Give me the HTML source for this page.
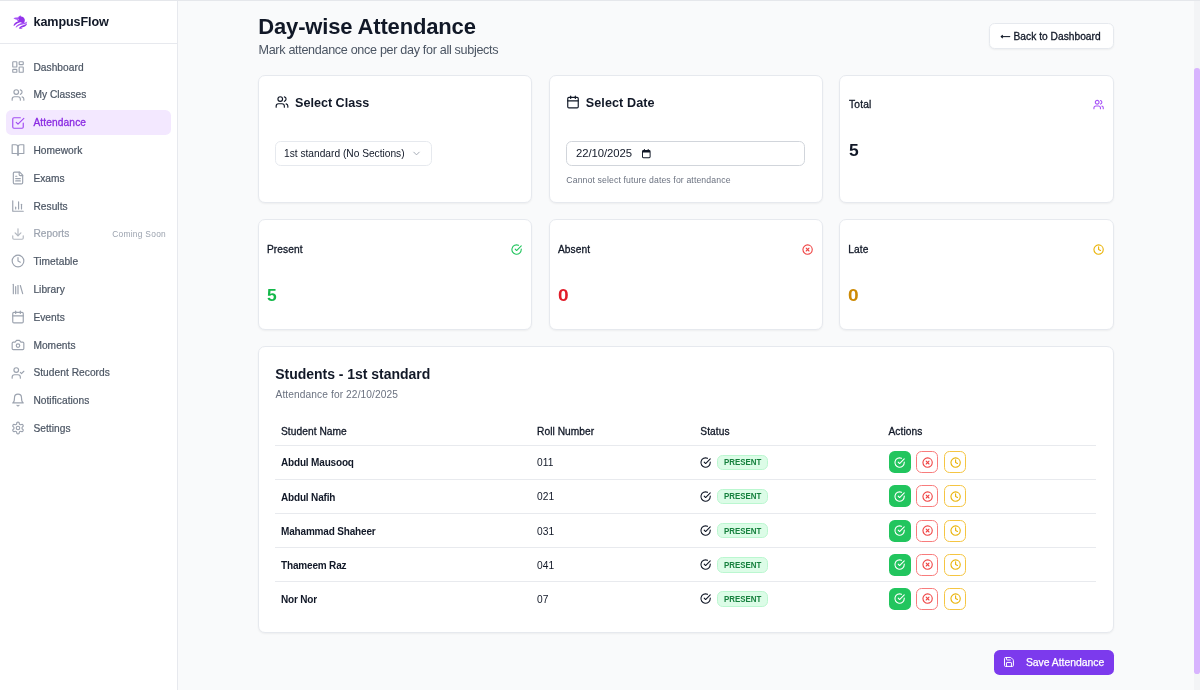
<!DOCTYPE html>
<html lang="en"><head><meta charset="utf-8"><title>Day-wise Attendance</title>
<style>
*{box-sizing:border-box;margin:0;padding:0}
html,body{width:1200px;height:690px;overflow:hidden;background:#f9fafb;font-family:"Liberation Sans",sans-serif;color:#111827}
body{position:relative}
.ic{position:absolute;display:block;overflow:visible}
.t{position:absolute;white-space:nowrap;line-height:1}
.topline{position:absolute;left:0;top:0;width:1200px;height:1px;background:#e5e7eb}
.side{position:absolute;left:0;top:1px;width:178px;height:689px;background:#fff;border-right:1px solid #e7e9ee}
.sidehead{position:absolute;left:0;top:0;width:177px;height:43px;border-bottom:1px solid #e7e9ee}
.nav{font-size:10.2px;color:#4b5563;letter-spacing:.04px;-webkit-text-stroke:.2px currentColor}
.active{position:absolute;left:6px;top:110.1px;width:165.4px;height:24.8px;border-radius:5.6px;background:#f3e8ff}
.card{position:absolute;background:#fff;border:1px solid #e6e9ee;border-radius:7px;box-shadow:0 1px 2px rgba(0,0,0,.05)}
.lbl{font-size:10.2px;color:#111827;letter-spacing:.08px;-webkit-text-stroke:.3px currentColor}
.big{font-size:16.8px;font-weight:700}
.hl{position:absolute;height:1px;background:#e8eaee;left:275px;width:821.3px}
.th{font-size:10.2px;color:#111827;letter-spacing:.06px;-webkit-text-stroke:.3px currentColor}
.nm{font-size:10px;font-weight:700;color:#111827;letter-spacing:-.17px}
.rn{font-size:10.2px;color:#111827;letter-spacing:.1px}
.badge{position:absolute;left:717px;width:51px;height:15.4px;border-radius:5.6px;background:#dcfce7;border:1px solid #bbf7d0}
.badge span{position:absolute;left:5.7px;top:2.5px;font-size:9.2px;font-weight:700;color:#15803d;line-height:1;transform:scaleX(.86);transform-origin:left}
.btn{position:absolute;width:22px;height:22px;border-radius:5.6px}
.bg{background:#22c55e}
.br{background:#fff;border:1px solid #f87c7c}
.by{background:#fff;border:1px solid #f5c542}
#wrap{position:absolute;left:0;top:0;width:1200px;height:690px;will-change:transform}
</style></head><body><div id="wrap">

<div class="topline"></div>
<div class="side"><div class="sidehead"></div></div>
<svg class="ic" style="left:12.5px;top:14.5px;width:15px;height:15px" viewBox="0 0 15 15"><path fill="#a855f7" d="M0.400 3.200C2 2.300 3.800 2.600 5.200 2.200 5.800 1 6.800.300 8 .400c-.300.600-.200 1.200.200 1.600L6.500 5 4.500 5.200C3.800 4.300 2 4.500.400 3.200z"/><path fill="#9333ea" d="M7.500 1.500c2-.300 3.700.900 4.200 2.800.400 1.600-.100 3.200-1.200 4.300L7.600 7.200 5.400 6.800 4.300 5.300C5 4.600 5.400 3.800 5.600 2.900 6.100 2.100 6.700 1.700 7.500 1.500z"/><path fill="#fff" opacity=".55" d="M5 3.600l1.300 1.300-.500.700L4.600 4.600z"/><path fill="#9333ea" d="M.500 10.200C1.500 7.800 4 6.400 6.600 6l1.600.700C5.800 7.600 3.200 8.600 1 10.900z"/><path fill="#a855f7" d="M2.500 12.200C3.800 9.600 7 8.300 9.800 7.800c1.700-.300 3.300-.500 4.500-1.400-.300 1.600-1.800 2.500-3.600 2.900-2.800.600-5.500 1.100-7.400 3.300z"/><path fill="#9333ea" d="M5.800 13.200c1.300-1.900 3.300-2.600 5.200-3.200 1.300-.400 2.300-.900 3-1.900.100 1.500-.700 2.700-2.100 3.400-1.300.600-2.700.800-3.900 1.300.500.400 1.100.600 1.800.600-1.300.700-2.900.600-4-.200z"/></svg>
<div class="t" style="left:33.5px;top:15.8px;font-size:12.6px;font-weight:700;color:#111827;letter-spacing:-.1px">kampusFlow</div>
<div class="active"></div>
<svg class="ic" style="left:11.2px;top:60.00000000000001px;width:14px;height:14px;color:#9ca3af;" viewBox="0 0 24 24" fill="none" stroke="currentColor" stroke-width="2" stroke-linecap="round" stroke-linejoin="round"><rect width="7" height="9" x="3" y="3" rx="1"/><rect width="7" height="5" x="14" y="3" rx="1"/><rect width="7" height="9" x="14" y="12" rx="1"/><rect width="7" height="5" x="3" y="16" rx="1"/></svg>
<div class="t nav" style="left:33.4px;top:62.50px;color:#4b5563">Dashboard</div>
<svg class="ic" style="left:11.2px;top:87.78px;width:14px;height:14px;color:#9ca3af;" viewBox="0 0 24 24" fill="none" stroke="currentColor" stroke-width="2" stroke-linecap="round" stroke-linejoin="round"><path d="M16 21v-2a4 4 0 0 0-4-4H6a4 4 0 0 0-4 4v2"/><circle cx="9" cy="7" r="4"/><path d="M22 21v-2a4 4 0 0 0-3-3.87"/><path d="M16 3.13a4 4 0 0 1 0 7.75"/></svg>
<div class="t nav" style="left:33.4px;top:90.30px;color:#4b5563">My Classes</div>
<svg class="ic" style="left:11.2px;top:115.56px;width:14px;height:14px;color:#a24df2;" viewBox="0 0 24 24" fill="none" stroke="currentColor" stroke-width="2" stroke-linecap="round" stroke-linejoin="round"><path d="m9 11 3 3L22 4"/><path d="M21 12v7a2 2 0 0 1-2 2H5a2 2 0 0 1-2-2V5a2 2 0 0 1 2-2h11"/></svg>
<div class="t nav" style="left:33.4px;top:118.10px;color:#8a2be2;letter-spacing:.12px;-webkit-text-stroke:.3px #8a2be2">Attendance</div>
<svg class="ic" style="left:11.2px;top:143.34px;width:14px;height:14px;color:#9ca3af;" viewBox="0 0 24 24" fill="none" stroke="currentColor" stroke-width="2" stroke-linecap="round" stroke-linejoin="round"><path d="M2 3h6a4 4 0 0 1 4 4v14a3 3 0 0 0-3-3H2z"/><path d="M22 3h-6a4 4 0 0 0-4 4v14a3 3 0 0 1 3-3h7z"/></svg>
<div class="t nav" style="left:33.4px;top:145.90px;color:#4b5563">Homework</div>
<svg class="ic" style="left:11.2px;top:171.12px;width:14px;height:14px;color:#9ca3af;" viewBox="0 0 24 24" fill="none" stroke="currentColor" stroke-width="2" stroke-linecap="round" stroke-linejoin="round"><path d="M15 2H6a2 2 0 0 0-2 2v16a2 2 0 0 0 2 2h12a2 2 0 0 0 2-2V7Z"/><path d="M14 2v4a2 2 0 0 0 2 2h4"/><path d="M10 9H8"/><path d="M16 13H8"/><path d="M16 17H8"/></svg>
<div class="t nav" style="left:33.4px;top:173.70px;color:#4b5563">Exams</div>
<svg class="ic" style="left:11.2px;top:198.9px;width:14px;height:14px;color:#9ca3af;" viewBox="0 0 24 24" fill="none" stroke="currentColor" stroke-width="2" stroke-linecap="round" stroke-linejoin="round"><path d="M3 3v18h18"/><path d="M18 17V9"/><path d="M13 17V5"/><path d="M8 17v-3"/></svg>
<div class="t nav" style="left:33.4px;top:201.50px;color:#4b5563">Results</div>
<svg class="ic" style="left:11.2px;top:226.68px;width:14px;height:14px;color:#b4b9c1;" viewBox="0 0 24 24" fill="none" stroke="currentColor" stroke-width="2" stroke-linecap="round" stroke-linejoin="round"><path d="M21 15v4a2 2 0 0 1-2 2H5a2 2 0 0 1-2-2v-4"/><polyline points="7 10 12 15 17 10"/><line x1="12" x2="12" y1="15" y2="3"/></svg>
<div class="t nav" style="left:33.4px;top:229.30px;color:#9ca3af">Reports</div>
<svg class="ic" style="left:11.2px;top:254.46px;width:14px;height:14px;color:#9ca3af;" viewBox="0 0 24 24" fill="none" stroke="currentColor" stroke-width="2" stroke-linecap="round" stroke-linejoin="round"><circle cx="12" cy="12" r="10"/><polyline points="12 6 12 12 16 14"/></svg>
<div class="t nav" style="left:33.4px;top:257.10px;color:#4b5563">Timetable</div>
<svg class="ic" style="left:11.2px;top:282.24px;width:14px;height:14px;color:#9ca3af;" viewBox="0 0 24 24" fill="none" stroke="currentColor" stroke-width="2" stroke-linecap="round" stroke-linejoin="round"><path d="m16 6 4 14"/><path d="M12 6v14"/><path d="M8 8v12"/><path d="M4 4v16"/></svg>
<div class="t nav" style="left:33.4px;top:284.90px;color:#4b5563">Library</div>
<svg class="ic" style="left:11.2px;top:310.02000000000004px;width:14px;height:14px;color:#9ca3af;" viewBox="0 0 24 24" fill="none" stroke="currentColor" stroke-width="2" stroke-linecap="round" stroke-linejoin="round"><path d="M8 2v4"/><path d="M16 2v4"/><rect width="18" height="18" x="3" y="4" rx="2"/><path d="M3 10h18"/></svg>
<div class="t nav" style="left:33.4px;top:312.70px;color:#4b5563">Events</div>
<svg class="ic" style="left:11.2px;top:337.80000000000007px;width:14px;height:14px;color:#9ca3af;" viewBox="0 0 24 24" fill="none" stroke="currentColor" stroke-width="2" stroke-linecap="round" stroke-linejoin="round"><path d="M14.5 4h-5L7 7H4a2 2 0 0 0-2 2v9a2 2 0 0 0 2 2h16a2 2 0 0 0 2-2V9a2 2 0 0 0-2-2h-3l-2.5-3z"/><circle cx="12" cy="13" r="3"/></svg>
<div class="t nav" style="left:33.4px;top:340.50px;color:#4b5563">Moments</div>
<svg class="ic" style="left:11.2px;top:365.58000000000004px;width:14px;height:14px;color:#9ca3af;" viewBox="0 0 24 24" fill="none" stroke="currentColor" stroke-width="2" stroke-linecap="round" stroke-linejoin="round"><path d="M16 21v-2a4 4 0 0 0-4-4H6a4 4 0 0 0-4 4v2"/><circle cx="9" cy="7" r="4"/><polyline points="16 11 18 13 22 9"/></svg>
<div class="t nav" style="left:33.4px;top:368.30px;color:#4b5563">Student Records</div>
<svg class="ic" style="left:11.2px;top:393.36px;width:14px;height:14px;color:#9ca3af;" viewBox="0 0 24 24" fill="none" stroke="currentColor" stroke-width="2" stroke-linecap="round" stroke-linejoin="round"><path d="M6 8a6 6 0 0 1 12 0c0 7 3 9 3 9H3s3-2 3-9"/><path d="M10.3 21a1.94 1.94 0 0 0 3.4 0"/></svg>
<div class="t nav" style="left:33.4px;top:396.10px;color:#4b5563">Notifications</div>
<svg class="ic" style="left:11.2px;top:421.14px;width:14px;height:14px;color:#9ca3af;" viewBox="0 0 24 24" fill="none" stroke="currentColor" stroke-width="2" stroke-linecap="round" stroke-linejoin="round"><path d="M12.22 2h-.44a2 2 0 0 0-2 2v.18a2 2 0 0 1-1 1.73l-.43.25a2 2 0 0 1-2 0l-.15-.08a2 2 0 0 0-2.73.73l-.22.38a2 2 0 0 0 .73 2.73l.15.1a2 2 0 0 1 1 1.72v.51a2 2 0 0 1-1 1.74l-.15.09a2 2 0 0 0-.73 2.73l.22.38a2 2 0 0 0 2.73.73l.15-.08a2 2 0 0 1 2 0l.43.25a2 2 0 0 1 1 1.73V20a2 2 0 0 0 2 2h.44a2 2 0 0 0 2-2v-.18a2 2 0 0 1 1-1.73l.43-.25a2 2 0 0 1 2 0l.15.08a2 2 0 0 0 2.73-.73l.22-.39a2 2 0 0 0-.73-2.73l-.15-.08a2 2 0 0 1-1-1.74v-.5a2 2 0 0 1 1-1.74l.15-.09a2 2 0 0 0 .73-2.73l-.22-.38a2 2 0 0 0-2.73-.73l-.15.08a2 2 0 0 1-2 0l-.43-.25a2 2 0 0 1-1-1.73V4a2 2 0 0 0-2-2z"/><circle cx="12" cy="12" r="3"/></svg>
<div class="t nav" style="left:33.4px;top:423.90px;color:#4b5563">Settings</div>
<div class="t" style="left:112.2px;top:229.8px;font-size:8.4px;color:#9ca3af;letter-spacing:.28px">Coming Soon</div>
<div class="t" style="left:258.3px;top:16.2px;font-size:22px;font-weight:700;color:#111827;letter-spacing:-.16px">Day-wise Attendance</div>
<div class="t" style="left:258.5px;top:43.5px;font-size:12.6px;color:#4b5563;letter-spacing:-.32px">Mark attendance once per day for all subjects</div>
<div class="card" style="left:989px;top:23px;width:124.5px;height:25.5px;border-radius:5.6px"></div>
<svg class="ic" style="left:1000.3px;top:33.3px;width:11px;height:7px" viewBox="0 0 11 7" fill="none" stroke="#111827" stroke-width="1.05" stroke-linecap="butt" stroke-linejoin="miter"><path d="M1 3.600H10.200"/><path d="M2.800 2 1.200 3.600 2.800 5.200"/></svg>
<div class="t lbl" style="left:1013.5px;top:32px;letter-spacing:.03px">Back to Dashboard</div>
<div class="card" style="left:258px;top:75px;width:274px;height:128px"></div>
<div class="card" style="left:548.8px;top:75px;width:274px;height:128px"></div>
<div class="card" style="left:839px;top:75px;width:274.5px;height:128px"></div>
<svg class="ic" style="left:275.3px;top:95px;width:14px;height:14px;color:#111827;" viewBox="0 0 24 24" fill="none" stroke="currentColor" stroke-width="2" stroke-linecap="round" stroke-linejoin="round"><path d="M16 21v-2a4 4 0 0 0-4-4H6a4 4 0 0 0-4 4v2"/><circle cx="9" cy="7" r="4"/><path d="M22 21v-2a4 4 0 0 0-3-3.87"/><path d="M16 3.13a4 4 0 0 1 0 7.75"/></svg>
<div class="t" style="left:295px;top:96.5px;font-size:12.6px;font-weight:700">Select Class</div>
<div class="card" style="left:275px;top:141px;width:156.5px;height:25px;border-radius:5.6px;box-shadow:none"></div>
<div class="t" style="left:284px;top:148.5px;font-size:10.2px;color:#111827">1st standard (No Sections)</div>
<svg class="ic" style="left:411px;top:148px;width:11px;height:11px;color:#9ca3af;" viewBox="0 0 24 24" fill="none" stroke="currentColor" stroke-width="2" stroke-linecap="round" stroke-linejoin="round"><path d="m6 9 6 6 6-6"/></svg>
<svg class="ic" style="left:566.3px;top:95px;width:14px;height:14px;color:#111827;" viewBox="0 0 24 24" fill="none" stroke="currentColor" stroke-width="2" stroke-linecap="round" stroke-linejoin="round"><path d="M8 2v4"/><path d="M16 2v4"/><rect width="18" height="18" x="3" y="4" rx="2"/><path d="M3 10h18"/></svg>
<div class="t" style="left:585.7px;top:96.5px;font-size:12.6px;font-weight:700;letter-spacing:.1px">Select Date</div>
<div class="card" style="left:566px;top:141px;width:239.3px;height:25px;border-radius:5.6px;border-color:#d1d5db;box-shadow:none"></div>
<div class="t" style="left:576px;top:147.6px;font-size:11.3px;color:#111827;letter-spacing:-.06px">22/10/2025</div>
<svg class="ic" style="left:642px;top:148.6px;width:8.6px;height:9.3px" viewBox="0 0 18 19"><path fill="#111827" d="M4 0h2v2h6V0h2v2h1a3 3 0 0 1 3 3v11a3 3 0 0 1-3 3H3a3 3 0 0 1-3-3V5a3 3 0 0 1 3-3h1zm-2 7v9a1 1 0 0 0 1 1h12a1 1 0 0 0 1-1V7z"/></svg>
<div class="t" style="left:566.3px;top:176.3px;font-size:8.7px;color:#6b7280;letter-spacing:.12px">Cannot select future dates for attendance</div>
<div class="t lbl" style="left:849px;top:100.2px;letter-spacing:.2px">Total</div>
<svg class="ic" style="left:1093px;top:99.3px;width:11.2px;height:11.2px;color:#a855f7;" viewBox="0 0 24 24" fill="none" stroke="currentColor" stroke-width="2.4" stroke-linecap="round" stroke-linejoin="round"><path d="M16 21v-2a4 4 0 0 0-4-4H6a4 4 0 0 0-4 4v2"/><circle cx="9" cy="7" r="4"/><path d="M22 21v-2a4 4 0 0 0-3-3.87"/><path d="M16 3.13a4 4 0 0 1 0 7.75"/></svg>
<div class="t big" style="left:848.7px;top:143.2px;color:#111827;transform:scaleX(1.04);transform-origin:left">5</div>
<div class="card" style="left:258px;top:219px;width:274px;height:110.5px"></div>
<div class="card" style="left:548.8px;top:219px;width:274px;height:110.5px"></div>
<div class="card" style="left:839px;top:219px;width:274.5px;height:110.5px"></div>
<div class="t lbl" style="left:267px;top:245.1px">Present</div>
<svg class="ic" style="left:511.4px;top:243.8px;width:11.2px;height:11.2px;color:#22c55e;" viewBox="0 0 24 24" fill="none" stroke="currentColor" stroke-width="2.4" stroke-linecap="round" stroke-linejoin="round"><path d="M22 11.08V12a10 10 0 1 1-5.93-9.14"/><path d="m9 11 3 3L22 4"/></svg>
<div class="t big" style="left:266.9px;top:288px;color:#14b84a;transform:scaleX(1.04);transform-origin:left">5</div>
<div class="t lbl" style="left:558px;top:245.1px">Absent</div>
<svg class="ic" style="left:802.4px;top:243.8px;width:11.2px;height:11.2px;color:#ef4444;" viewBox="0 0 24 24" fill="none" stroke="currentColor" stroke-width="2.4" stroke-linecap="round" stroke-linejoin="round"><circle cx="12" cy="12" r="10"/><path d="m15 9-6 6"/><path d="m9 9 6 6"/></svg>
<div class="t big" style="left:557.9px;top:288px;color:#e11d2a;transform:scaleX(1.14);transform-origin:left">0</div>
<div class="t lbl" style="left:848.3px;top:245.1px">Late</div>
<svg class="ic" style="left:1092.7px;top:243.8px;width:11.2px;height:11.2px;color:#eab308;" viewBox="0 0 24 24" fill="none" stroke="currentColor" stroke-width="2.4" stroke-linecap="round" stroke-linejoin="round"><circle cx="12" cy="12" r="10"/><polyline points="12 6 12 12 16 14"/></svg>
<div class="t big" style="left:848.1999999999999px;top:288px;color:#cd8a04;transform:scaleX(1.14);transform-origin:left">0</div>
<div class="card" style="left:258px;top:346px;width:855.5px;height:286.8px"></div>
<div class="t" style="left:275.3px;top:367px;font-size:14px;font-weight:700;letter-spacing:-.03px">Students - 1st standard</div>
<div class="t" style="left:275.5px;top:389.5px;font-size:10.2px;color:#6b7280;letter-spacing:.1px">Attendance for 22/10/2025</div>
<div class="t th" style="left:281px;top:427.1px">Student Name</div>
<div class="t th" style="left:537px;top:427.1px">Roll Number</div>
<div class="t th" style="left:700.3px;top:427.1px">Status</div>
<div class="t th" style="left:888.5px;top:427.1px">Actions</div>
<div class="hl" style="top:445.00px"></div>
<div class="t nm" style="left:281px;top:458.40px">Abdul Mausooq</div>
<div class="t rn" style="left:537px;top:458.30px">011</div>
<svg class="ic" style="left:700.3px;top:456.9px;width:11.2px;height:11.2px;color:#111827;" viewBox="0 0 24 24" fill="none" stroke="currentColor" stroke-width="2.4" stroke-linecap="round" stroke-linejoin="round"><path d="M22 11.08V12a10 10 0 1 1-5.93-9.14"/><path d="m9 11 3 3L22 4"/></svg>
<div class="badge" style="top:454.80px"><span>PRESENT</span></div>
<div class="btn bg" style="left:888.75px;top:451.30px"></div>
<svg class="ic" style="left:894.15px;top:456.9px;width:11.2px;height:11.2px;color:#fff;" viewBox="0 0 24 24" fill="none" stroke="currentColor" stroke-width="2.4" stroke-linecap="round" stroke-linejoin="round"><path d="M22 11.08V12a10 10 0 1 1-5.93-9.14"/><path d="m9 11 3 3L22 4"/></svg>
<div class="btn br" style="left:916.4px;top:451.30px"></div>
<svg class="ic" style="left:921.8px;top:456.9px;width:11.2px;height:11.2px;color:#ef4444;" viewBox="0 0 24 24" fill="none" stroke="currentColor" stroke-width="2.4" stroke-linecap="round" stroke-linejoin="round"><circle cx="12" cy="12" r="10"/><path d="m15 9-6 6"/><path d="m9 9 6 6"/></svg>
<div class="btn by" style="left:944.3px;top:451.30px"></div>
<svg class="ic" style="left:949.6999999999999px;top:456.9px;width:11.2px;height:11.2px;color:#eab308;" viewBox="0 0 24 24" fill="none" stroke="currentColor" stroke-width="2.4" stroke-linecap="round" stroke-linejoin="round"><circle cx="12" cy="12" r="10"/><polyline points="12 6 12 12 16 14"/></svg>
<div class="hl" style="top:479.12px"></div>
<div class="t nm" style="left:281px;top:492.52px">Abdul Nafih</div>
<div class="t rn" style="left:537px;top:492.42px">021</div>
<svg class="ic" style="left:700.3px;top:491.02px;width:11.2px;height:11.2px;color:#111827;" viewBox="0 0 24 24" fill="none" stroke="currentColor" stroke-width="2.4" stroke-linecap="round" stroke-linejoin="round"><path d="M22 11.08V12a10 10 0 1 1-5.93-9.14"/><path d="m9 11 3 3L22 4"/></svg>
<div class="badge" style="top:488.92px"><span>PRESENT</span></div>
<div class="btn bg" style="left:888.75px;top:485.42px"></div>
<svg class="ic" style="left:894.15px;top:491.02px;width:11.2px;height:11.2px;color:#fff;" viewBox="0 0 24 24" fill="none" stroke="currentColor" stroke-width="2.4" stroke-linecap="round" stroke-linejoin="round"><path d="M22 11.08V12a10 10 0 1 1-5.93-9.14"/><path d="m9 11 3 3L22 4"/></svg>
<div class="btn br" style="left:916.4px;top:485.42px"></div>
<svg class="ic" style="left:921.8px;top:491.02px;width:11.2px;height:11.2px;color:#ef4444;" viewBox="0 0 24 24" fill="none" stroke="currentColor" stroke-width="2.4" stroke-linecap="round" stroke-linejoin="round"><circle cx="12" cy="12" r="10"/><path d="m15 9-6 6"/><path d="m9 9 6 6"/></svg>
<div class="btn by" style="left:944.3px;top:485.42px"></div>
<svg class="ic" style="left:949.6999999999999px;top:491.02px;width:11.2px;height:11.2px;color:#eab308;" viewBox="0 0 24 24" fill="none" stroke="currentColor" stroke-width="2.4" stroke-linecap="round" stroke-linejoin="round"><circle cx="12" cy="12" r="10"/><polyline points="12 6 12 12 16 14"/></svg>
<div class="hl" style="top:513.24px"></div>
<div class="t nm" style="left:281px;top:526.64px">Mahammad Shaheer</div>
<div class="t rn" style="left:537px;top:526.54px">031</div>
<svg class="ic" style="left:700.3px;top:525.14px;width:11.2px;height:11.2px;color:#111827;" viewBox="0 0 24 24" fill="none" stroke="currentColor" stroke-width="2.4" stroke-linecap="round" stroke-linejoin="round"><path d="M22 11.08V12a10 10 0 1 1-5.93-9.14"/><path d="m9 11 3 3L22 4"/></svg>
<div class="badge" style="top:523.04px"><span>PRESENT</span></div>
<div class="btn bg" style="left:888.75px;top:519.54px"></div>
<svg class="ic" style="left:894.15px;top:525.14px;width:11.2px;height:11.2px;color:#fff;" viewBox="0 0 24 24" fill="none" stroke="currentColor" stroke-width="2.4" stroke-linecap="round" stroke-linejoin="round"><path d="M22 11.08V12a10 10 0 1 1-5.93-9.14"/><path d="m9 11 3 3L22 4"/></svg>
<div class="btn br" style="left:916.4px;top:519.54px"></div>
<svg class="ic" style="left:921.8px;top:525.14px;width:11.2px;height:11.2px;color:#ef4444;" viewBox="0 0 24 24" fill="none" stroke="currentColor" stroke-width="2.4" stroke-linecap="round" stroke-linejoin="round"><circle cx="12" cy="12" r="10"/><path d="m15 9-6 6"/><path d="m9 9 6 6"/></svg>
<div class="btn by" style="left:944.3px;top:519.54px"></div>
<svg class="ic" style="left:949.6999999999999px;top:525.14px;width:11.2px;height:11.2px;color:#eab308;" viewBox="0 0 24 24" fill="none" stroke="currentColor" stroke-width="2.4" stroke-linecap="round" stroke-linejoin="round"><circle cx="12" cy="12" r="10"/><polyline points="12 6 12 12 16 14"/></svg>
<div class="hl" style="top:547.36px"></div>
<div class="t nm" style="left:281px;top:560.76px">Thameem Raz</div>
<div class="t rn" style="left:537px;top:560.66px">041</div>
<svg class="ic" style="left:700.3px;top:559.26px;width:11.2px;height:11.2px;color:#111827;" viewBox="0 0 24 24" fill="none" stroke="currentColor" stroke-width="2.4" stroke-linecap="round" stroke-linejoin="round"><path d="M22 11.08V12a10 10 0 1 1-5.93-9.14"/><path d="m9 11 3 3L22 4"/></svg>
<div class="badge" style="top:557.16px"><span>PRESENT</span></div>
<div class="btn bg" style="left:888.75px;top:553.66px"></div>
<svg class="ic" style="left:894.15px;top:559.26px;width:11.2px;height:11.2px;color:#fff;" viewBox="0 0 24 24" fill="none" stroke="currentColor" stroke-width="2.4" stroke-linecap="round" stroke-linejoin="round"><path d="M22 11.08V12a10 10 0 1 1-5.93-9.14"/><path d="m9 11 3 3L22 4"/></svg>
<div class="btn br" style="left:916.4px;top:553.66px"></div>
<svg class="ic" style="left:921.8px;top:559.26px;width:11.2px;height:11.2px;color:#ef4444;" viewBox="0 0 24 24" fill="none" stroke="currentColor" stroke-width="2.4" stroke-linecap="round" stroke-linejoin="round"><circle cx="12" cy="12" r="10"/><path d="m15 9-6 6"/><path d="m9 9 6 6"/></svg>
<div class="btn by" style="left:944.3px;top:553.66px"></div>
<svg class="ic" style="left:949.6999999999999px;top:559.26px;width:11.2px;height:11.2px;color:#eab308;" viewBox="0 0 24 24" fill="none" stroke="currentColor" stroke-width="2.4" stroke-linecap="round" stroke-linejoin="round"><circle cx="12" cy="12" r="10"/><polyline points="12 6 12 12 16 14"/></svg>
<div class="hl" style="top:581.48px"></div>
<div class="t nm" style="left:281px;top:594.88px">Nor Nor</div>
<div class="t rn" style="left:537px;top:594.78px">07</div>
<svg class="ic" style="left:700.3px;top:593.38px;width:11.2px;height:11.2px;color:#111827;" viewBox="0 0 24 24" fill="none" stroke="currentColor" stroke-width="2.4" stroke-linecap="round" stroke-linejoin="round"><path d="M22 11.08V12a10 10 0 1 1-5.93-9.14"/><path d="m9 11 3 3L22 4"/></svg>
<div class="badge" style="top:591.28px"><span>PRESENT</span></div>
<div class="btn bg" style="left:888.75px;top:587.78px"></div>
<svg class="ic" style="left:894.15px;top:593.38px;width:11.2px;height:11.2px;color:#fff;" viewBox="0 0 24 24" fill="none" stroke="currentColor" stroke-width="2.4" stroke-linecap="round" stroke-linejoin="round"><path d="M22 11.08V12a10 10 0 1 1-5.93-9.14"/><path d="m9 11 3 3L22 4"/></svg>
<div class="btn br" style="left:916.4px;top:587.78px"></div>
<svg class="ic" style="left:921.8px;top:593.38px;width:11.2px;height:11.2px;color:#ef4444;" viewBox="0 0 24 24" fill="none" stroke="currentColor" stroke-width="2.4" stroke-linecap="round" stroke-linejoin="round"><circle cx="12" cy="12" r="10"/><path d="m15 9-6 6"/><path d="m9 9 6 6"/></svg>
<div class="btn by" style="left:944.3px;top:587.78px"></div>
<svg class="ic" style="left:949.6999999999999px;top:593.38px;width:11.2px;height:11.2px;color:#eab308;" viewBox="0 0 24 24" fill="none" stroke="currentColor" stroke-width="2.4" stroke-linecap="round" stroke-linejoin="round"><circle cx="12" cy="12" r="10"/><polyline points="12 6 12 12 16 14"/></svg>
<div style="position:absolute;left:994.3px;top:650px;width:119.3px;height:25px;border-radius:5.6px;background:#7c3aed"></div>
<svg class="ic" style="left:1002.7px;top:656.4px;width:11.9px;height:11.9px;color:#fff;" viewBox="0 0 24 24" fill="none" stroke="currentColor" stroke-width="2" stroke-linecap="round" stroke-linejoin="round"><path d="M15.2 3a2 2 0 0 1 1.4.6l3.8 3.8a2 2 0 0 1 .6 1.4V19a2 2 0 0 1-2 2H5a2 2 0 0 1-2-2V5a2 2 0 0 1 2-2z"/><path d="M17 21v-7a1 1 0 0 0-1-1H8a1 1 0 0 0-1 1v7"/><path d="M7 3v4a1 1 0 0 0 1 1h7"/></svg>
<div class="t" style="left:1025.9px;top:657.8px;font-size:10.4px;color:#fff;letter-spacing:-.02px;-webkit-text-stroke:.25px #fff">Save Attendance</div>
<div style="position:absolute;left:1194.3px;top:1px;width:5.7px;height:689px;background:#f3f4f6"></div>
<div style="position:absolute;left:1193.8px;top:68.3px;width:6.2px;height:605.4px;border-radius:2.8px;background:#d8b4fe"></div>
</div></body></html>
